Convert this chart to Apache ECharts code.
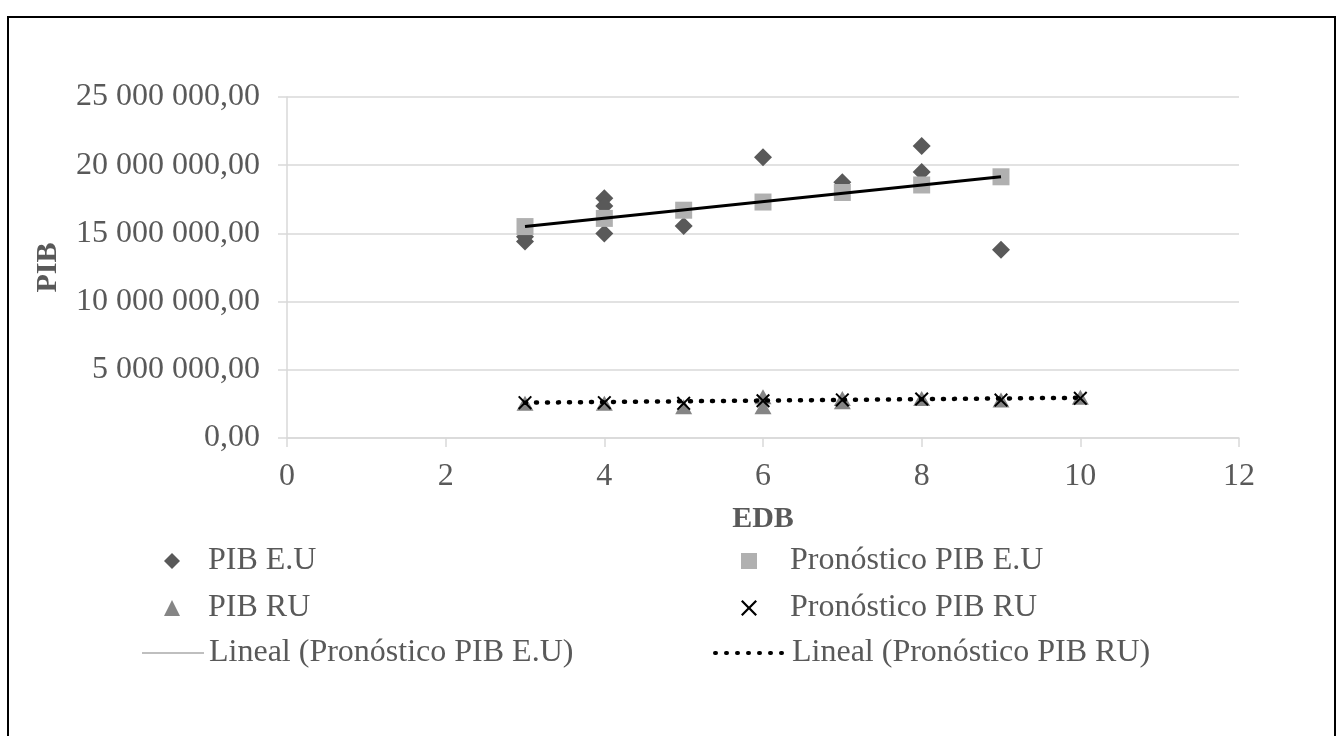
<!DOCTYPE html>
<html style="height: 100%">
<head>
<meta charset="utf-8">
<script src="https://cdn.jsdelivr.net/npm/echarts@6/dist/echarts.min.js"></script>
<style>
  html, body { margin: 0; background: #fff; }
</style>
</head>
<body>
<div id="container" style="width: 1338px; height: 736px"></div>
<script type="text/javascript">
// values (x = EDB, y = PIB)
var pibEU = [[3, 14400000], [3, 14750000], [4, 17570000], [4, 17000000], [4, 15000000], [5, 15540000],
             [6, 20580000], [7, 18750000], [8, 21400000], [8, 19500000], [9, 13800000]];
var pronEU = [[3, 15500000], [4, 16100000], [5, 16700000], [6, 17300000], [7, 18000000], [8, 18550000], [9, 19150000]];
var pibRU = [[3, 2550000], [4, 2550000], [5, 2300000], [6, 3030000], [6, 2300000], [7, 2900000],
             [7, 2660000], [8, 2900000], [9, 2780000], [10, 2980000]];
var pronRU = [[3, 2590000], [4, 2590000], [5, 2540000], [6, 2730000], [7, 2790000], [8, 2860000], [9, 2780000], [10, 2910000]];
var trendEU = [[3, 15500000], [9, 19150000]];
var trendRU = [[3, 2590000], [10, 2950000]];

var FONT = '"Liberation Serif", "Times New Roman", serif';
var GRAY = '#595959';
var xMark = 'path://M0,10 L10,0 L50,40 L90,0 L100,10 L60,50 L100,90 L90,100 L50,60 L10,100 L0,90 L40,50 Z';

function fmt(v) {
    var s = Math.round(v).toString().replace(/\B(?=(\d{3})+(?!\d))/g, ' ');
    return s + ',00';
}

// one legend per entry so each icon keeps its own size
function legendItem(name, left, top, w, h, pad, extra) {
    var item = { name: name };
    if (extra) {
        for (var k in extra) item[k] = extra[k];
    }
    return {
        left: left,
        top: top,
        padding: 0,
        itemWidth: w,
        itemHeight: h,
        textStyle: { color: GRAY, fontFamily: FONT, fontSize: 32, lineHeight: 32, padding: [0, 0, 0, pad] },
        data: [item]
    };
}

var myChart = echarts.init(document.getElementById('container'));
var option = {
    animation: false,
    backgroundColor: '#fff',
    graphic: [{
        type: 'rect',
        shape: { x: 8, y: 17, width: 1327, height: 730 },
        style: { fill: 'none', stroke: '#000', lineWidth: 2 },
        silent: true
    }],
    grid: { left: 287, right: 99, top: 97, bottom: 298 },
    legend: [
        legendItem('PIB E.U', 164, 545, 16, 16, 23),
        legendItem('PIB RU', 164, 592, 16, 16, 23),
        legendItem('Lineal (Pronóstico PIB E.U)', 141, 637, 62, 14, 0,
                   { itemStyle: { opacity: 0 }, lineStyle: { color: '#bfbfbf', width: 2 } }),
        legendItem('Pronóstico PIB E.U', 741, 545, 16, 16, 28),
        legendItem('Pronóstico PIB RU', 741, 592, 16, 16, 28),
        legendItem('Lineal (Pronóstico PIB RU)', 713, 637, 72, 14, 0,
                   { itemStyle: { opacity: 0 },
                     lineStyle: { color: '#000', width: 4, type: [1, 10], cap: 'round' } })
    ],
    xAxis: {
        type: 'value',
        min: 0,
        max: 12,
        interval: 2,
        name: 'EDB',
        nameLocation: 'middle',
        nameGap: 66,
        nameTextStyle: { color: GRAY, fontFamily: FONT, fontSize: 30, fontWeight: 'bold' },
        axisLine: { show: true, lineStyle: { color: '#d9d9d9', width: 1.5 } },
        axisTick: { show: true, length: 9, lineStyle: { color: '#d9d9d9', width: 1.5 } },
        axisLabel: { color: GRAY, fontFamily: FONT, fontSize: 32, margin: 23 },
        splitLine: { show: false }
    },
    yAxis: {
        type: 'value',
        min: 0,
        max: 25000000,
        interval: 5000000,
        name: 'PIB',
        nameLocation: 'middle',
        nameGap: 224,
        nameTextStyle: { color: GRAY, fontFamily: FONT, fontSize: 30, fontWeight: 'bold' },
        axisLine: { show: true, lineStyle: { color: '#d9d9d9', width: 1.5 } },
        axisTick: { show: true, length: 9, lineStyle: { color: '#d9d9d9', width: 1.5 } },
        axisLabel: { color: GRAY, fontFamily: FONT, fontSize: 32, margin: 27, formatter: fmt },
        splitLine: { lineStyle: { color: '#d9d9d9', width: 1.5 } }
    },
    series: [{
        name: 'PIB E.U',
        type: 'scatter',
        symbol: 'diamond',
        symbolSize: 18,
        itemStyle: { color: '#595959', opacity: 1 },
        data: pibEU
    }, {
        name: 'Pronóstico PIB E.U',
        type: 'scatter',
        symbol: 'rect',
        symbolSize: 17,
        itemStyle: { color: '#b0b0b0', opacity: 1 },
        data: pronEU
    }, {
        name: 'PIB RU',
        type: 'scatter',
        symbol: 'triangle',
        symbolSize: [17, 15],
        itemStyle: { color: '#858585', opacity: 1 },
        data: pibRU
    }, {
        name: 'Pronóstico PIB RU',
        type: 'scatter',
        symbol: xMark,
        symbolSize: 14,
        itemStyle: { color: '#000', opacity: 1 },
        data: pronRU
    }, {
        name: 'Lineal (Pronóstico PIB E.U)',
        type: 'line',
        symbol: 'none',
        z: 5,
        lineStyle: { color: '#000', width: 3 },
        itemStyle: { color: '#000' },
        data: trendEU
    }, {
        name: 'Lineal (Pronóstico PIB RU)',
        type: 'line',
        symbol: 'none',
        z: 5,
        lineStyle: { color: '#000', width: 4.5, type: [1, 10], cap: 'round' },
        itemStyle: { color: '#000' },
        data: trendRU
    }]
};
myChart.setOption(option);
</script>
</body>
</html>
